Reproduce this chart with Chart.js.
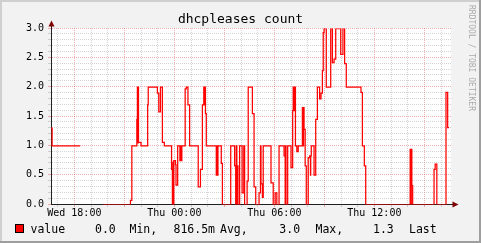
<!DOCTYPE html>
<html><head><meta charset="utf-8">
<script src="https://cdn.jsdelivr.net/npm/chart.js@4/dist/chart.umd.min.js"></script>
<style>html,body{margin:0;padding:0;background:#F2F2F2;overflow:hidden}#wrap{width:481px;height:243px;position:relative}</style>
</head><body><div id="wrap"><canvas id="c" width="481" height="243"></canvas></div>
<script>
const chartTitle = 'dhcpleases count';
const seriesName = 'value';
// minutes after Wed 18:00 where the value changes (step start)
const times = [-84,-80,21,22,103,202,207,225,227,229,230,231,240,264,266,299,304,310,317,324,
  350,353,355,356,358,364,366,372,380,382,383,387,399,403,409,415,446,454,461,466,
  468,470,472,475,511,513,515,517,529,533,563,577,581,583,585,587,589,595,604,610,
  613,622,626,641,647,653,665,670,672,677,680,708,716,723,729,737,755,759,760,762,
  768,780,786,788,791,793,796,801,806,821,823,825,827,831,835,842,847,850,851,853,
  863,869,875,883,888,893,896,899,907,923,929,935,941,959,967,973,979,1032,1037,1044,
  1049,1209,1211,1213,1215,1218,1295,1299,1305,1338,1344,1349];
const values = [1.3,1.0,1.0,null,0,0.07,1.0,1.45,2.0,1.05,2.0,1.06,1.0,1.7,2.0,1.9,1.58,2.0,1.06,1.0,
  0.6,0,0.72,0,0.75,0.68,0.33,1.0,0.75,1.0,0.75,1.0,1.97,2.0,1.7,1.0,0.3,0.6,1.7,2.0,
  1.7,2.0,1.55,1.0,0.5,1.0,0.5,1.0,0.7,0,1.0,0.66,0,1.0,0,0.66,0,1.0,0.2,1.0,
  0,0.4,2.0,1.55,0.3,0,0.2,1.0,0.35,0.12,1.0,0.37,0,0.2,0,1.0,0.83,0,1.0,0,
  1.0,0.63,1.6,2.0,1.6,2.0,1.0,0.9,1.0,1.65,1.0,1.65,1.28,0.66,0,0.8,0.83,0.5,0.83,1.0,
  0.5,1.45,2.0,1.8,1.9,2.28,2.93,3.0,2.0,3.0,2.42,2.48,3.0,2.56,3.0,2.4,2.0,1.91,1.0,0.66,
  0,0.94,0,0.94,0.32,0,0.6,0.69,0,1.91,1.31,1.31];
const xTickMinutes = [0, 360, 720, 1080];
const xTickLabels = ['Wed 18:00', 'Thu 00:00', 'Thu 06:00', 'Thu 12:00'];
const legendStats = ['0.0', '816.5m', '3.0', '1.3'];
const legendStatNames = ['Min,', 'Avg,', 'Max,', 'Last'];
const watermark = 'RRDTOOL / TOBI OETIKER';

const MONO = "'DejaVu Sans Mono', monospace";
const MINOR = 'rgba(143,143,143,0.38)';
const MAJOR = 'rgba(222,79,79,0.45)';

const points = times.map((t, i) => ({x: t, y: values[i]}));

const decor = {
  id: 'decor',
  beforeDraw(chart) {
    const ctx = chart.ctx, a = chart.chartArea;
    ctx.save();
    ctx.fillStyle = '#F2F2F2';
    ctx.fillRect(0, 0, 481, 243);
    ctx.fillStyle = '#CFCFCF';
    ctx.fillRect(0, 0, 481, 2);
    ctx.fillRect(0, 0, 2, 243);
    ctx.fillStyle = '#9E9E9E';
    ctx.fillRect(0, 241, 481, 2);
    ctx.fillRect(479, 0, 2, 243);
    ctx.fillStyle = '#FFFFFF';
    ctx.fillRect(a.left, a.top, a.right - a.left, a.bottom - a.top);
    ctx.restore();
  },
  beforeDatasetsDraw(chart) { chart.ctx.save(); chart.ctx.translate(0, 0.5); },
  afterDatasetsDraw(chart) { chart.ctx.restore(); },
  afterDraw(chart) {
    const ctx = chart.ctx, a = chart.chartArea;
    ctx.save();
    ctx.strokeStyle = '#212121';
    ctx.lineWidth = 1;
    ctx.beginPath();
    ctx.moveTo(a.left + 0.5, a.top); ctx.lineTo(a.left + 0.5, a.top - 3);
    ctx.moveTo(a.right, a.bottom + 0.5); ctx.lineTo(a.right + 3, a.bottom + 0.5);
    ctx.stroke();
    ctx.fillStyle = '#7F0000';
    ctx.beginPath();
    ctx.moveTo(a.left - 2.5, a.top - 1.5); ctx.lineTo(a.left + 0.5, a.top - 7.5); ctx.lineTo(a.left + 3.5, a.top - 1.5);
    ctx.closePath(); ctx.fill();
    ctx.beginPath();
    ctx.moveTo(a.right + 1.5, a.bottom - 2.5); ctx.lineTo(a.right + 7.5, a.bottom + 0.5); ctx.lineTo(a.right + 1.5, a.bottom + 3.5);
    ctx.closePath(); ctx.fill();
    ctx.fillStyle = '#000000';
    ctx.font = '13px ' + MONO;
    ctx.textAlign = 'center';
    ctx.textBaseline = 'alphabetic';
    ctx.fillText(chartTitle, 240.5, 23);
    ctx.fillStyle = '#FF0000';
    ctx.fillRect(15, 224, 9, 9);
    ctx.strokeStyle = '#000000';
    ctx.strokeRect(15.5, 224.5, 8, 8);
    ctx.fillStyle = '#000000';
    ctx.font = '11.5px ' + MONO;
    ctx.textAlign = 'left';
    ctx.fillText(seriesName, 30.5, 233);
    const statX = [95, 173.5, 279.3, 373];
    const nameX = [129.5, 220, 315.5, 409];
    for (let i = 0; i < legendStats.length; i++) {
      ctx.fillText(legendStats[i], statX[i], 233);
      ctx.fillText(legendStatNames[i], nameX[i], 233);
    }
    ctx.translate(471.5, 5);
    ctx.rotate(Math.PI / 2);
    ctx.fillStyle = '#ABABAB';
    ctx.font = '8px ' + MONO;
    ctx.textBaseline = 'middle';
    ctx.fillText(watermark, 0, 0);
    ctx.restore();
  }
};

new Chart(document.getElementById('c'), {
  type: 'line',
  data: {
    datasets: [{
      label: seriesName,
      data: points,
      borderColor: '#FF0000',
      borderWidth: 1.25,
      pointRadius: 0,
      stepped: true,
      spanGaps: false,
      fill: false,
      tension: 0
    }]
  },
  options: {
    responsive: false,
    devicePixelRatio: 1,
    animation: false,
    events: [],
    layout: {padding: {left: 0, top: 28, right: 30, bottom: 20}},
    plugins: {legend: {display: false}, tooltip: {enabled: false}, title: {display: false}},
    scales: {
      x: {
        type: 'linear', min: -84, max: 1356,
        afterBuildTicks(s) { const t = []; for (let m = -60; m <= 1320; m += 60) t.push({value: m}); s.ticks = t; },
        afterFit(s) { s.height = 19; },
        ticks: {
          autoSkip: false, maxRotation: 0, minRotation: 0, padding: 0,
          color: '#000000', font: {family: MONO, size: 10},
          callback(v) { const i = xTickMinutes.indexOf(v); return i >= 0 ? xTickLabels[i] : ''; }
        },
        grid: {
          color: c => (c.tick && c.tick.value % 180 === 0) ? MAJOR : MINOR,
          tickLength: 3, lineWidth: 1
        },
        border: {display: true, color: '#212121', width: 1, dash: [1, 1]}
      },
      y: {
        type: 'linear', min: 0, max: 3,
        afterBuildTicks(s) { const t = []; for (let i = 0; i <= 30; i++) t.push({value: i / 10}); s.ticks = t; },
        afterFit(s) { s.width = 51; },
        ticks: {
          autoSkip: false, padding: 4,
          color: '#000000', font: {family: MONO, size: 10},
          callback(v) { return Math.round(v * 10) % 5 === 0 ? v.toFixed(1) : ''; }
        },
        grid: {
          color: c => (c.tick && Math.round(c.tick.value * 10) % 5 === 0) ? MAJOR : MINOR,
          tickLength: 3, lineWidth: 1
        },
        border: {display: true, color: '#212121', width: 1, dash: [1, 1]}
      }
    }
  },
  plugins: [decor]
});
</script></body></html>
